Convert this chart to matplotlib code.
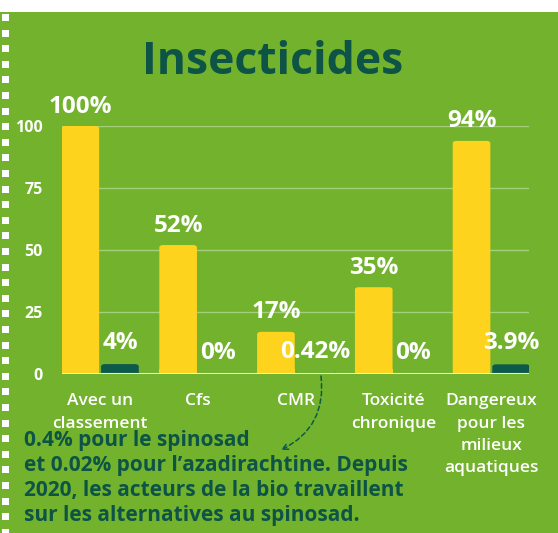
import matplotlib
matplotlib.use("Agg")
import matplotlib.pyplot as plt
from matplotlib.patches import Rectangle, FancyBboxPatch
import numpy as np

categories = ["Avec un\nclassement", "Cfs", "CMR", "Toxicité\nchronique", "Dangereux\npour les\nmilieux\naquatiques"]
conventionnel = [100, 52, 17, 35, 94]
bio = [4, 0, 0.42, 0, 3.9]
labels_conv = ["100%", "52%", "17%", "35%", "94%"]
labels_bio = ["4%", "0%", "0.42%", "0%", "3.9%"]
yticks = [0, 25, 50, 75, 100]
title = "Insecticides"
note = ("0.4% pour le spinosad\n"
        "et 0.02% pour l’azadirachtine. Depuis\n"
        "2020, les acteurs de la bio travaillent\n"
        "sur les alternatives au spinosad.")

BG = "#72b22c"
YEL = "#fdd31d"
DARK = "#0e5a4a"
TITLE = "#0d5447"

W, H = 558, 533
fig = plt.figure(figsize=(W / 100, H / 100), dpi=100)
fig.patch.set_facecolor("white")
# green panel
fig.patches.append(Rectangle((0, 0), 1, (H - 12) / H, transform=fig.transFigure,
                             facecolor=BG, edgecolor="none", zorder=-5))
# left dashed white border
y = H - 14
while y > 0:
    fig.patches.append(Rectangle((2 / W, (y - 7) / H), 6.5 / W, 7 / H, transform=fig.transFigure,
                                 facecolor="white", edgecolor="none", zorder=-4))
    y -= 15.6

ax = fig.add_axes([62 / W, (H - 374) / H, (529 - 62) / W, (374 - 126) / H])
ax.set_zorder(2)
ax.set_facecolor("none")
x = np.arange(len(categories))
bw = 0.385

def rbar(xc, h, color):
    if h <= 0:
        return
    p = FancyBboxPatch((xc - bw / 2, 0), bw, h,
                       boxstyle="round,pad=0,rounding_size=0.04",
                       mutation_aspect=25, facecolor=color, edgecolor="none", zorder=3)
    ax.add_patch(p)

for i in range(len(categories)):
    rbar(x[i] - bw / 2 - 0.01, conventionnel[i], YEL)
    rbar(x[i] + bw / 2 + 0.01, bio[i], DARK)
# flat bottoms
ax.bar(x - bw / 2 - 0.01, [min(v, 2) for v in conventionnel], bw, color=YEL, zorder=3)
ax.bar(x + bw / 2 + 0.01, [min(v, 1) for v in bio], bw, color=DARK, zorder=3)

for i in range(len(categories)):
    ax.text(x[i] - bw / 2 - 0.01, conventionnel[i] + 3.0, labels_conv[i], ha="center", va="bottom",
            color="white", fontsize=17.5, fontweight="bold", family="Open Sans", zorder=5)
    ax.text(x[i] + bw / 2 + 0.01, bio[i] + 3.6, labels_bio[i], ha="center", va="bottom",
            color="white", fontsize=17.5, fontweight="bold", family="Open Sans", zorder=5)

ax.set_xlim(-0.39, 4.385)
ax.set_ylim(0, 100)
ax.set_yticks(yticks)
ax.set_yticklabels([str(t) for t in yticks], color="white", fontsize=11.5,
                   fontweight="bold", family="Open Sans")
ax.tick_params(axis="y", length=0, pad=14)
ax.set_xticks(x)
ax.set_xticklabels(categories, color="white", fontsize=12.5, family="Open Sans",
                   fontweight="semibold", linespacing=1.52, va="top")
ax.tick_params(axis="x", length=0, pad=14)
ax.grid(axis="y", color="#a6cf7c", linewidth=1, zorder=0)
ax.axhline(0, color="#e6f0d8", linewidth=1.5, zorder=4)
for s in ax.spines.values():
    s.set_visible(False)

fig.text(273 / W, 1 - 63 / H, title, ha="center", va="center", color=TITLE,
         fontsize=32, fontweight="bold", family="Open Sans")

fig.text(24 / W, 1 - 430 / H, note, ha="left", va="top", color=TITLE,
         fontsize=15, fontweight="bold", family="Open Sans", linespacing=1.25)

ax.annotate("", xy=(281 / W, 1 - 450 / H), xycoords="figure fraction",
            xytext=(321 / W, 1 - 376 / H), textcoords="figure fraction",
            arrowprops=dict(arrowstyle="->", color=DARK, linestyle=(0, (3, 2)), lw=1.1,
                            connectionstyle="arc3,rad=-0.35", shrinkA=0, shrinkB=0))

fig.savefig("out.png", dpi=100, facecolor=fig.get_facecolor())
